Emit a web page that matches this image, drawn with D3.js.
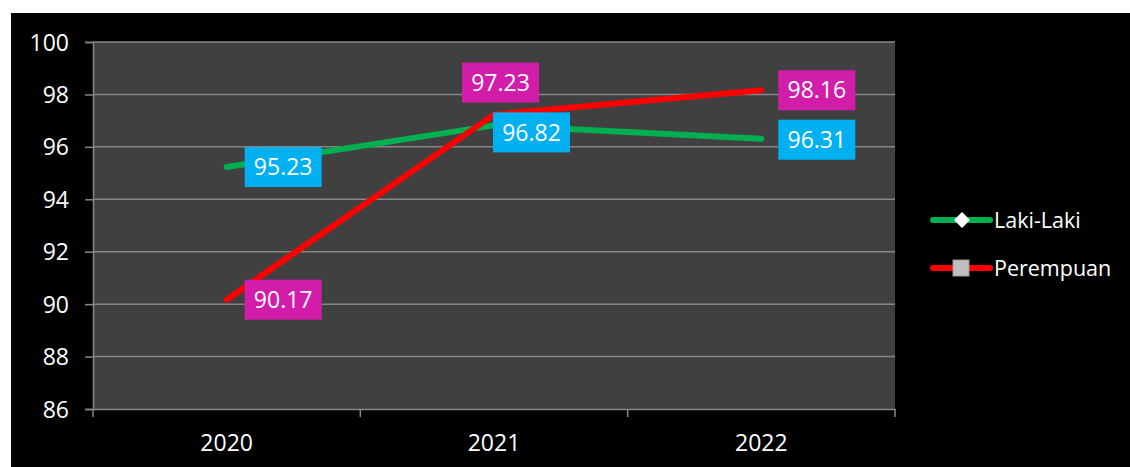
<!DOCTYPE html>
<html lang="en">
<head>
<meta charset="UTF-8">
<title>Laki-Laki / Perempuan</title>
<style>
  body { margin: 0; background: #ffffff; font-family: "Open Sans", "Noto Sans", sans-serif; }
</style>
</head>
<body>
<script src="https://d3js.org/d3.v7.min.js"></script>
<div id="chart"></div>
<script>
  // data
  var years = ["2020", "2021", "2022"]
  var lakiLaki = [95.23, 96.82, 96.31]
  var perempuan = [90.17, 97.23, 98.16]
  var yTicks = [86, 88, 90, 92, 94, 96, 98, 100]

  var width = 1130, height = 467
  var plot = {left: 93, top: 42, right: 895, bottom: 409}

  var svg = d3.select("#chart").append("svg")
    .attr("width", width).attr("height", height)

  // black chart area
  svg.append("rect").attr("x", 11).attr("y", 13)
    .attr("width", width - 11).attr("height", height - 13)
    .attr("fill", "#000")

  var x = d3.scaleBand().domain(years).range([plot.left, plot.right])
  var y = d3.scaleLinear().domain([86, 100]).range([plot.bottom, plot.top])

  svg.append("rect")
    .attr("x", plot.left).attr("y", plot.top)
    .attr("width", plot.right - plot.left).attr("height", plot.bottom - plot.top)
    .attr("fill", "#404040")

  // grid lines + y axis
  var yAxis = d3.axisLeft(y).tickValues(yTicks).tickSize(8).tickPadding(16)
  var gy = svg.append("g").attr("transform", "translate(" + plot.left + ",0)").call(yAxis)
  gy.select(".domain").attr("stroke", "#868686").attr("stroke-width", 1.5)
  gy.selectAll(".tick line").attr("stroke", "#868686").attr("stroke-width", 1.5)
  gy.selectAll(".tick text").attr("fill", "#fff").style("font-size", "23px")
    .style("font-family", "'Open Sans', sans-serif").attr("dy", "0.35em")

  svg.append("g").selectAll("line").data(yTicks.slice(1)).join("line")
    .attr("x1", plot.left).attr("x2", plot.right)
    .attr("y1", d => y(d)).attr("y2", d => y(d))
    .attr("stroke", "#868686").attr("stroke-width", 1.5)

  // x axis
  var xAxis = d3.axisBottom(x).tickSize(0).tickPadding(26)
  var gx = svg.append("g").attr("transform", "translate(0," + plot.bottom + ")").call(xAxis)
  gx.select(".domain").attr("stroke", "#868686").attr("stroke-width", 1.5)
  gx.selectAll(".tick text").attr("fill", "#fff").style("font-size", "23px")
    .style("font-family", "'Open Sans', sans-serif")
  // category boundary ticks
  var bounds = years.map(d => x(d)).concat([x(years[years.length - 1]) + x.bandwidth()])
  gx.selectAll(".bound").data(bounds).join("line").attr("class", "bound")
    .attr("x1", d => d).attr("x2", d => d).attr("y1", 0).attr("y2", 8)
    .attr("stroke", "#868686").attr("stroke-width", 1.5)

  var cx = d => x(d) + x.bandwidth() / 2
  var line = d3.line().x(d => cx(d[0])).y(d => y(d[1]))

  var series = [
    {name: "Laki-Laki", values: lakiLaki, color: "#00b050", box: "#00b0f0"},
    {name: "Perempuan", values: perempuan, color: "#ff0000", box: "#d21caa"}
  ]

  series.forEach(function(s) {
    svg.append("path")
      .datum(years.map((yr, i) => [yr, s.values[i]]))
      .attr("d", line)
      .attr("fill", "none").attr("stroke", s.color)
      .attr("stroke-width", 6).attr("stroke-linecap", "round").attr("stroke-linejoin", "round")
  })

  // data labels; offsets of the label box from its point (moved like in the original)
  var labelShift = {
    "Laki-Laki": [[18, 0], [-1, 7], [17, 1]],
    "Perempuan": [[18, 0], [-32, -32], [17, 0]]
  }
  var boxW = 77, boxH = 40
  series.forEach(function(s) {
    var g = svg.append("g").selectAll("g")
      .data(years.map((yr, i) => ({yr: yr, v: s.values[i], sh: labelShift[s.name][i]})))
      .join("g")
      .attr("transform", d => "translate(" + (cx(d.yr) + d.sh[0]) + "," + (y(d.v) + d.sh[1] - boxH / 2) + ")")
    g.append("rect").attr("width", boxW).attr("height", boxH).attr("fill", s.box)
    g.append("text").attr("x", boxW / 2).attr("y", boxH / 2).attr("dy", "0.36em")
      .attr("text-anchor", "middle").attr("fill", "#fff")
      .style("font-size", "23px")
      .text(d => d.v.toFixed(2))
  })

  // legend
  var legend = svg.append("g").selectAll("g").data(series).join("g")
    .attr("transform", (d, i) => "translate(933," + (220 + i * 48) + ")")
  legend.append("line").attr("x1", 0).attr("x2", 57)
    .attr("stroke", d => d.color).attr("stroke-width", 6).attr("stroke-linecap", "round")
  legend.filter((d, i) => i == 0).append("path")
    .attr("d", "M29,-8 L37,0 L29,8 L21,0 Z").attr("fill", "#fff")
  legend.filter((d, i) => i == 1).append("rect")
    .attr("x", 20).attr("y", -8).attr("width", 16).attr("height", 16)
    .attr("fill", "#bfbfbf").attr("stroke", "#9a9a9a").attr("stroke-width", 1)
  legend.append("text").attr("x", 61).attr("dy", "0.36em")
    .attr("fill", "#fff").style("font-size", "21.5px")
    .text(d => d.name)
</script>
</body>
</html>
